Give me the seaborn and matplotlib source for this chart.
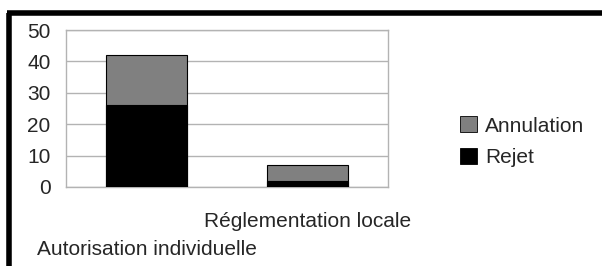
import matplotlib
matplotlib.use("Agg")
import matplotlib.pyplot as plt
import seaborn as sns
import pandas as pd
from matplotlib.patches import Patch
from matplotlib.lines import Line2D

### DATA ###

categories = ["Autorisation individuelle", "Réglementation locale"]
rejet = [26, 2]
annulation = [16, 5]
series_names = ["Annulation", "Rejet"]
yticks = [0, 10, 20, 30, 40, 50]

### PLOT ###

sns.set_style("white")
plt.rcParams["font.family"] = ["Liberation Sans", "DejaVu Sans"]

df = pd.DataFrame({"cat": categories, "rejet": rejet, "annulation": annulation})
df["total"] = df["rejet"] + df["annulation"]

fig = plt.figure(figsize=(6.02, 2.66), dpi=100)
ax = fig.add_axes([66 / 602, 1 - 187 / 266, 322 / 602, 157 / 266])

sns.barplot(data=df, x="cat", y="total", color="#808080", width=0.5,
            edgecolor="black", linewidth=0.8, saturation=1, ax=ax, zorder=3)
sns.barplot(data=df, x="cat", y="rejet", color="black", width=0.5,
            edgecolor="black", linewidth=0.8, saturation=1, ax=ax, zorder=4)

ax.set_xlim(-0.5, 1.5)
ax.set_ylim(0, 50)
ax.set_yticks(yticks)
ax.set_xlabel("")
ax.set_ylabel("")
ax.yaxis.grid(True, color="#b3b3b3", linewidth=1)
ax.set_axisbelow(True)
for s in ax.spines.values():
    s.set_color("#b3b3b3")
    s.set_linewidth(1)

ax.tick_params(axis="y", length=8, width=1, color="#b3b3b3", labelsize=15, pad=3)
ax.tick_params(axis="x", length=8, width=1, color="#b3b3b3", labelsize=15, pad=10)
ax.set_xticks([0, 1])
ax.set_xticklabels(categories)
# staggered category labels
ax.get_xticklabels()[0].set_y(-0.18)

handles = [Patch(facecolor="#808080", edgecolor="black", linewidth=0.6),
           Patch(facecolor="black", edgecolor="black", linewidth=0.6)]
fig.legend(handles, series_names, loc="upper left",
           bbox_to_anchor=(450 / 602, 1 - 106 / 266), frameon=False,
           fontsize=15, handlelength=0.8, handleheight=0.8,
           handletextpad=0.4, labelspacing=0.6, borderpad=0)

# outer frame (cropped on right / bottom)
fig.add_artist(Line2D([8.5 / 602, 8.5 / 602], [0, 1 - 13 / 266],
                      color="black", linewidth=4, solid_capstyle="butt"))
fig.add_artist(Line2D([6.5 / 602, 1], [1 - 13 / 266, 1 - 13 / 266],
                      color="black", linewidth=4, solid_capstyle="butt"))

fig.savefig("out.png", dpi=100)
